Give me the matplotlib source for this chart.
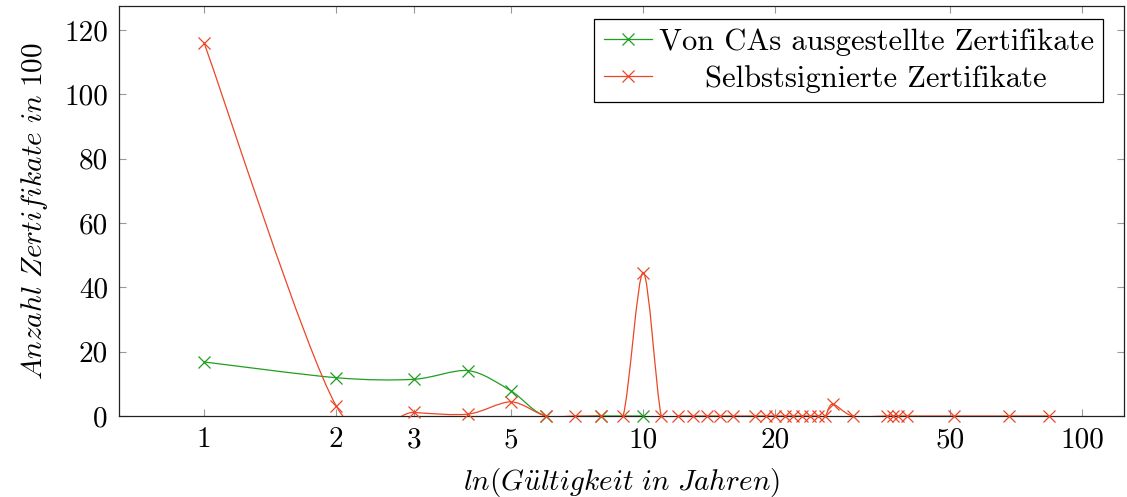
import matplotlib
matplotlib.use('Agg')
import matplotlib.pyplot as plt
import numpy as np
from matplotlib.path import Path
from matplotlib.patches import PathPatch
from matplotlib.lines import Line2D

plt.rcParams['font.family'] = ['serif']
plt.rcParams['font.serif'] = ['cmr10', 'DejaVu Serif']
plt.rcParams['mathtext.fontset'] = 'cm'
plt.rcParams['axes.formatter.use_mathtext'] = True

# Jahre (Gueltigkeit) und Anzahl Zertifikate in 100
ca_jahre = [1, 2, 3, 4, 5, 6, 8, 10]
ca_anzahl = [16.8, 11.9, 11.4, 14.1, 7.8, 0, 0, 0]

self_jahre = [1, 2, 3, 4, 5, 6, 7, 8, 9, 10, 11, 12, 13, 14, 15, 16,
              18, 19, 20, 21, 22, 23, 24, 25, 26, 27, 30, 36, 37, 38, 40,
              51, 68, 84]
self_anzahl = [116, 3.1, 1.1, 0.6, 4.4, 0, 0, 0, 0, 44.6, 0, 0, 0, 0, 0, 0,
               0, 0, 0, 0, 0, 0, 0, 0, 0, 3.7, 0, 0, 0, 0, 0,
               0, 0, 0]

x_ticks = [1, 2, 3, 5, 10, 20, 50, 100]
y_ticks = [0, 20, 40, 60, 80, 100, 120]

gruen = '#1f9e1f'
rot = '#ea4726'


def smooth_path(xs, ys, k=0.15):
    # glatte kurve wie pgfplots "smooth" (bezier in log-x raum)
    u = np.log10(np.array(xs, dtype=float))
    v = np.array(ys, dtype=float)
    p = np.column_stack([u, v])
    n = len(p)
    verts = [p[0]]
    codes = [Path.MOVETO]
    for i in range(n - 1):
        prev = p[i - 1] if i > 0 else p[i]
        nxt2 = p[i + 2] if i + 2 < n else p[i + 1]
        c1 = p[i] + k * (p[i + 1] - prev)
        c2 = p[i + 1] - k * (nxt2 - p[i])
        verts += [c1, c2, p[i + 1]]
        codes += [Path.CURVE4] * 3
    verts = np.array(verts)
    verts[:, 0] = 10 ** verts[:, 0]
    return Path(verts, codes)


fig = plt.figure(figsize=(11.27, 4.97), dpi=100)
ax = fig.add_axes([0.1056, 0.163, 0.8917, 0.825])
ax.set_xscale('log')

ax.add_patch(PathPatch(smooth_path(ca_jahre, ca_anzahl), fill=False,
                       edgecolor=gruen, lw=0.9, zorder=3))
ax.plot(ca_jahre, ca_anzahl, ls='none', marker='x', color=gruen,
        ms=9, mew=0.9, zorder=3, clip_on=False)
ax.add_patch(PathPatch(smooth_path(self_jahre, self_anzahl), fill=False,
                       edgecolor=rot, lw=0.9, zorder=4))
ax.plot(self_jahre, self_anzahl, ls='none', marker='x', color=rot,
        ms=9, mew=0.9, zorder=4, clip_on=False)

ax.set_xlim(0.64, 124.5)
ax.set_ylim(0, 127.5)
ax.set_xticks(x_ticks)
ax.set_xticklabels([str(t) for t in x_ticks])
ax.xaxis.set_minor_locator(matplotlib.ticker.NullLocator())
ax.set_yticks(y_ticks)
ax.set_yticklabels([str(t) for t in y_ticks])
ax.tick_params(which='both', direction='in', length=5, width=0.8,
               color='#999999', labelsize=21, top=True, right=True, pad=8)
for s in ax.spines.values():
    s.set_linewidth(0.9)
    s.set_color('#222222')

ax.set_xlabel(r'$\mathit{ln(G\ddot{u}ltigkeit\ in\ Jahren)}$', fontsize=21, labelpad=9)
ax.set_ylabel(r'$\mathit{Anzahl\ Zertifikate\ in\ 100}$', fontsize=21, labelpad=10)

handles = [Line2D([], [], color=gruen, marker='x', ms=9, mew=0.9, lw=0.9),
           Line2D([], [], color=rot, marker='x', ms=9, mew=0.9, lw=0.9)]
leg = ax.legend(handles, ['Von CAs ausgestellte Zertifikate',
                          'Selbstsignierte Zertifikate'],
                loc='upper right', bbox_to_anchor=(0.979, 0.968),
                fontsize=22, frameon=True, fancybox=False, edgecolor='black',
                framealpha=1, handlelength=1.6, handletextpad=0.2,
                borderpad=0.3, labelspacing=0.3, borderaxespad=0)
leg.get_frame().set_linewidth(0.9)

# zweiten legendeneintrag zentrieren wie im original
r = fig.canvas.get_renderer()
t1, t2 = leg.get_texts()
w1 = t1.get_window_extent(r).width
w2 = t2.get_window_extent(r).width
t2.set_x((w1 - w2) / 2)

fig.savefig('out.png', dpi=100)
